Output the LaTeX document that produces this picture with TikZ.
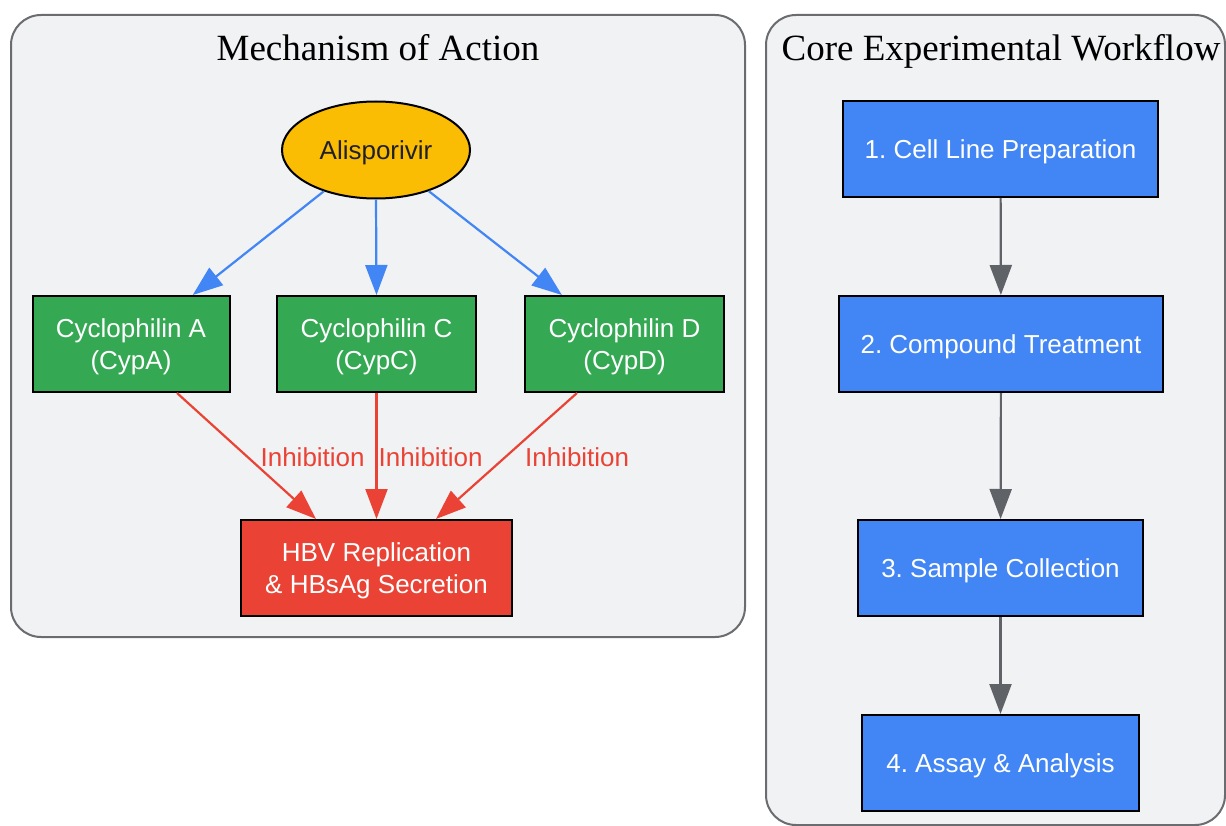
\documentclass[tikz,border=0pt]{standalone}
\usepackage{fontspec}
\setmainfont{Liberation Serif}
\newfontfamily\nodefont{Liberation Sans}
\usetikzlibrary{arrows.meta,shapes.geometric,calc}
\frenchspacing
\definecolor{clfill}{HTML}{F1F2F4}
\definecolor{clborder}{HTML}{6A6C70}
\definecolor{gyellow}{HTML}{FBBC04}
\definecolor{ggreen}{HTML}{34A853}
\definecolor{gred}{HTML}{EA4335}
\definecolor{gblue}{HTML}{4285F4}
\definecolor{ggray}{HTML}{5F6368}
\definecolor{gdark}{HTML}{202124}
\tikzset{
  cluster/.style={draw=clborder, fill=clfill, line width=2pt, rounded corners=30pt},
  ctitle/.style={font=\fontsize{37}{44}\selectfont, text=black, inner sep=0pt, anchor=base},
  boxbase/.style={draw=black, line width=2pt, inner sep=0pt, align=center,
    font=\nodefont\fontsize{26}{32}\selectfont\frenchspacing, text=white, text depth=-2.5pt},
  greenbox/.style={boxbase, fill=ggreen, minimum width=197pt, minimum height=96pt},
  bluebox/.style={boxbase, fill=gblue, minimum height=96pt},
  redbox/.style={boxbase, fill=gred, minimum width=271pt, minimum height=96pt},
  drug/.style={ellipse, draw=black, line width=2pt, fill=gyellow, inner sep=0pt,
    minimum width=188pt, minimum height=97pt, text=gdark, text depth=-2.5pt,
    font=\nodefont\fontsize{26}{32}\selectfont},
  bluearrow/.style={draw=gblue, line width=2.2pt, -{Triangle[length=30pt,width=22pt,fill=gblue]}},
  redarrow/.style={draw=gred, line width=2.2pt, -{Triangle[length=30pt,width=22pt,fill=gred]}},
  grayarrow/.style={draw=ggray, line width=2.2pt, -{Triangle[length=30pt,width=22pt,fill=ggray]}},
  lbl/.style={text=gred, font=\nodefont\fontsize{26}{32}\selectfont, inner sep=0pt, anchor=west}
}
\begin{document}
\begin{tikzpicture}[x=1pt,y=-1pt]
\useasboundingbox (0,0) rectangle (1226,826);
\fill[white] (0,0) rectangle (1226,826);
% clusters
\draw[cluster] (11,15) rectangle (745,637);
\draw[cluster] (766,15) rectangle (1225,825);
\node[ctitle] (t1) at (378,61) {Mechanism of Action};
\node[ctitle] (t2) at (1001,61) {Core Experimental Workflow};
% mechanism nodes
\node[drug] (ali) at (376,150) {Alisporivir};
\node[greenbox] (cypa) at (131,344) {Cyclophilin A\\(CypA)};
\node[greenbox, minimum width=199pt] (cypc) at (376.5,344) {Cyclophilin C\\(CypC)};
\node[greenbox, minimum width=199pt] (cypd) at (624.5,344) {Cyclophilin D\\(CypD)};
\node[redbox] (hbv) at (376.5,568) {HBV Replication\\\&~HBsAg Secretion};
% mechanism edges
\draw[bluearrow] (ali) -- (cypa);
\draw[bluearrow] (ali.south) -- (cypc.north);
\draw[bluearrow] (ali) -- (cypd);
\draw[redarrow] ($(cypa.south)+(46,0)$) -- node[lbl, pos=0.5, xshift=13pt, yshift=-1.5pt]{Inhibition} ($(hbv.north)+(-60.5,0)$);
\draw[redarrow] (cypc.south) -- node[lbl, pos=0.5, xshift=1pt, yshift=-1.5pt]{Inhibition} (hbv.north);
\draw[redarrow] ($(cypd.south)+(-47.5,0)$) -- node[lbl, pos=0.5, xshift=17.5pt, yshift=-1.5pt]{Inhibition} ($(hbv.north)+(59.5,0)$);
% workflow
\node[bluebox, minimum width=315pt] (s1) at (1000.5,149) {1. Cell Line Preparation};
\node[bluebox, minimum width=324pt] (s2) at (1001,344) {2. Compound Treatment};
\node[bluebox, minimum width=285pt] (s3) at (1000.5,568) {3. Sample Collection};
\node[bluebox, minimum width=277pt] (s4) at (1000.5,763) {4. Assay \& Analysis};
\draw[grayarrow] (s1) -- (s2);
\draw[grayarrow] (s2) -- (s3);
\draw[grayarrow] (s3) -- (s4);
\end{tikzpicture}
\end{document}
